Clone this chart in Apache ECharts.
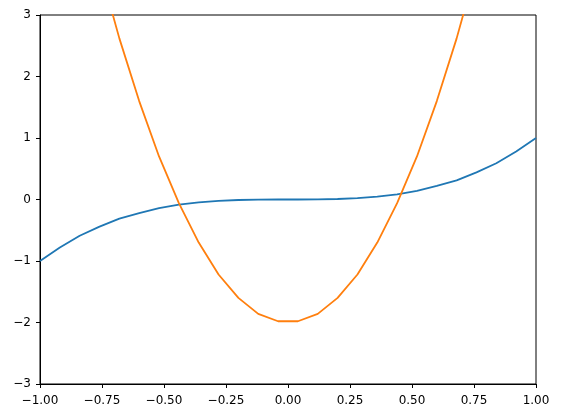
<!DOCTYPE html>
<html>
<head>
<meta charset="utf-8">
<script src="https://cdn.jsdelivr.net/npm/echarts@6/dist/echarts.min.js"></script>
<style>html,body{margin:0;padding:0;background:#fff;}#c{width:561px;height:418px;}</style>
</head>
<body>
<div id="c"></div>
<script>
const xs = [-1, -0.92, -0.84, -0.76, -0.68, -0.6, -0.52, -0.44, -0.36, -0.28, -0.2, -0.12, -0.04,
            0.04, 0.12, 0.2, 0.28, 0.36, 0.44, 0.52, 0.6, 0.68, 0.76, 0.84, 0.92, 1];
const blueVals = [-1, -0.78, -0.59, -0.44, -0.31, -0.22, -0.14, -0.085, -0.047, -0.022, -0.008, -0.002, 0,
                  0, 0.002, 0.008, 0.022, 0.047, 0.085, 0.14, 0.22, 0.31, 0.44, 0.59, 0.78, 1];
const orangeVals = [8, 6.46, 5.06, 3.78, 2.62, 1.6, 0.7, -0.06, -0.7, -1.22, -1.6, -1.86, -1.98,
                    -1.98, -1.86, -1.6, -1.22, -0.7, -0.06, 0.7, 1.6, 2.62, 3.78, 5.06, 6.46, 8];
const xTicks = {min: -1, max: 1, interval: 0.25};
const yTicks = {min: -3, max: 3, interval: 1};

const chart = echarts.init(document.getElementById('c'), null, {renderer: 'canvas'});
const fmtX = v => v.toFixed(2).replace('-', '\u2212');
const fmtY = v => String(v).replace('-', '\u2212');
const axisCommon = {
  axisLine: {show: true, onZero: false, lineStyle: {color: '#000', width: 1}},
  axisTick: {show: true, inside: false, length: 4, lineStyle: {color: '#000', width: 1}},
  splitLine: {show: false}
};
chart.setOption({
  animation: false,
  grid: {left: 40, right: 25, top: 15, bottom: 34, show: true, borderColor: '#000', borderWidth: 1, containLabel: false},
  xAxis: Object.assign({type: 'value', min: xTicks.min, max: xTicks.max, interval: xTicks.interval}, axisCommon,
    {axisLabel: {color: '#000', fontFamily: 'DejaVu Sans', fontSize: 12, margin: 11, formatter: fmtX, showMinLabel: true, showMaxLabel: true}}),
  yAxis: Object.assign({type: 'value', min: yTicks.min, max: yTicks.max, interval: yTicks.interval}, axisCommon,
    {axisLabel: {color: '#000', fontFamily: 'DejaVu Sans', fontSize: 12, margin: 9, formatter: fmtY}}),
  series: [
    {type: 'line', data: xs.map((x, i) => [x, blueVals[i]]), showSymbol: false, clip: true,
     lineStyle: {color: '#1f77b4', width: 1.8}, itemStyle: {color: '#1f77b4'}},
    {type: 'line', data: xs.map((x, i) => [x, orangeVals[i]]), showSymbol: false, clip: true,
     lineStyle: {color: '#ff7f0e', width: 1.8}, itemStyle: {color: '#ff7f0e'}}
  ]
});
</script>
</body>
</html>
